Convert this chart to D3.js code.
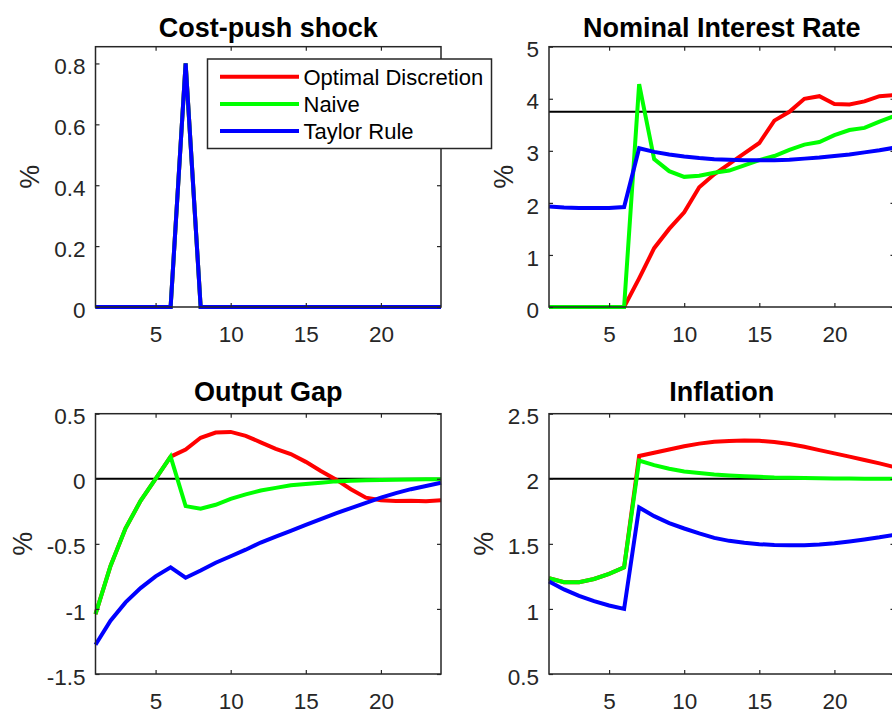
<!DOCTYPE html>
<html>
<head>
<meta charset="utf-8">
<script src="https://cdn.jsdelivr.net/npm/d3@7"></script>
<style>
  body { margin: 0; background: #fff; }
  svg { display: block; overflow: hidden; }
  text { font-family: "Liberation Sans", Arial, Helvetica, sans-serif; }
</style>
</head>
<body>
<div id="fig"></div>
<script>
// periods on the x axis
const periods = [1,2,3,4,5,6,7,8,9,10,11,12,13,14,15,16,17,18,19,20,21,22,23,24];

// Cost-push shock (same for all three)
const shockOpt    = [0,0,0,0,0,0,0.8,0,0,0,0,0,0,0,0,0,0,0,0,0,0,0,0,0];
const shockNaive  = [0,0,0,0,0,0,0.8,0,0,0,0,0,0,0,0,0,0,0,0,0,0,0,0,0];
const shockTaylor = [0,0,0,0,0,0,0.8,0,0,0,0,0,0,0,0,0,0,0,0,0,0,0,0,0];

// Nominal interest rate
const rateOpt    = [0,0,0,0,0,0,0.55,1.13,1.5,1.82,2.3,2.55,2.75,2.95,3.15,3.58,3.75,4.0,4.05,3.9,3.89,3.95,4.05,4.07];
const rateNaive  = [0,0,0,0,0,0,4.28,2.84,2.61,2.5,2.52,2.58,2.62,2.72,2.82,2.9,3.02,3.12,3.17,3.3,3.4,3.44,3.56,3.67];
const rateTaylor = [1.93,1.91,1.9,1.9,1.9,1.92,3.05,2.98,2.93,2.89,2.86,2.84,2.83,2.82,2.82,2.82,2.83,2.85,2.87,2.9,2.93,2.97,3.01,3.06];
const rateRef = 3.75;

// Output gap
const gapOpt    = [-1.04,-0.67,-0.38,-0.17,0.0,0.17,0.225,0.315,0.355,0.36,0.33,0.28,0.23,0.19,0.13,0.06,-0.005,-0.08,-0.145,-0.165,-0.17,-0.168,-0.172,-0.165];
const gapNaive  = [-1.04,-0.67,-0.38,-0.17,0.0,0.17,-0.21,-0.23,-0.2,-0.155,-0.12,-0.09,-0.07,-0.05,-0.04,-0.03,-0.02,-0.015,-0.012,-0.01,-0.008,-0.005,-0.004,-0.003];
const gapTaylor = [-1.275,-1.09,-0.95,-0.84,-0.75,-0.68,-0.76,-0.705,-0.645,-0.595,-0.545,-0.49,-0.445,-0.4,-0.355,-0.31,-0.265,-0.225,-0.185,-0.145,-0.11,-0.08,-0.055,-0.03];
const gapRef = 0;

// Inflation
const inflOpt    = [1.236,1.205,1.205,1.23,1.27,1.32,2.175,2.2,2.225,2.25,2.27,2.285,2.29,2.295,2.292,2.282,2.267,2.246,2.22,2.195,2.17,2.144,2.118,2.09];
const inflNaive  = [1.236,1.205,1.205,1.23,1.27,1.32,2.14,2.105,2.077,2.056,2.044,2.033,2.026,2.02,2.015,2.01,2.008,2.005,2.004,2.003,2.002,2.001,2.0,2.0];
const inflTaylor = [1.21,1.15,1.1,1.06,1.026,1.0,1.78,1.713,1.66,1.618,1.58,1.546,1.523,1.508,1.497,1.492,1.49,1.49,1.495,1.505,1.518,1.533,1.55,1.57];
const inflRef = 2;

const seriesNames = ["Optimal Discretion", "Naive", "Taylor Rule"];
const seriesColors = ["#ff0000", "#00ff00", "#0000ff"];

const xTicks = [5, 10, 15, 20];

const width = 892;
const height = 712;

const svg = d3.select("#fig").append("svg")
    .attr("width", width)
    .attr("height", height);

const panels = [
  {title: "Cost-push shock", x: 95.5, y: 46.7, domain: [0, 0.855], ticks: [0,0.2,0.4,0.6,0.8],
   data: [shockOpt, shockNaive, shockTaylor], ref: null, ylabOff: 57, titleOff: 10},
  {title: "Nominal Interest Rate", x: 549, y: 46.7, domain: [0, 5], ticks: [0,1,2,3,4,5],
   data: [rateOpt, rateNaive, rateTaylor], ref: rateRef, ylabOff: 36, titleOff: 10},
  {title: "Output Gap", x: 95.5, y: 413.7, domain: [-1.5, 0.5], ticks: [-1.5,-1,-0.5,0,0.5],
   data: [gapOpt, gapNaive, gapTaylor], ref: gapRef, ylabOff: 64, titleOff: 12.7},
  {title: "Inflation", x: 549, y: 413.7, domain: [0.5, 2.5], ticks: [0.5,1,1.5,2,2.5],
   data: [inflOpt, inflNaive, inflTaylor], ref: inflRef, ylabOff: 56, titleOff: 12.7}
];
const pw = 345.5, ph = 260.3;

panels.forEach(function(p){
  const g = svg.append("g").attr("transform", "translate(" + p.x + "," + p.y + ")");

  const x = d3.scaleLinear().domain([1, 24]).range([0, pw]);
  const y = d3.scaleLinear().domain(p.domain).range([ph, 0]);

  // reference line
  if (p.ref !== null) {
    g.append("line")
      .attr("x1", 0).attr("x2", pw)
      .attr("y1", y(p.ref)).attr("y2", y(p.ref))
      .attr("stroke", "#000")
      .attr("stroke-width", 2);
  }

  const line = d3.line()
    .x(function(d, i){ return x(periods[i]); })
    .y(function(d){ return y(d); });

  p.data.forEach(function(s, k){
    g.append("path")
      .datum(s)
      .attr("d", line)
      .attr("fill", "none")
      .attr("stroke", seriesColors[k])
      .attr("stroke-width", 4)
      .attr("stroke-linejoin", "miter")
      .attr("stroke-linecap", "butt");
  });

  const fmt = function(d){ return String(d); };

  // bottom + left with labels, ticks pointing in
  g.append("g")
    .attr("transform", "translate(0," + ph + ")")
    .call(d3.axisBottom(x).tickValues(xTicks).tickSizeInner(-4).tickSizeOuter(0).tickPadding(19).tickFormat(fmt))
    .call(function(a){ a.select(".domain").remove(); })
    .call(function(a){
      a.selectAll("line").attr("stroke", "#262626").attr("stroke-width", 1.2);
      a.selectAll("text").attr("fill", "#262626").attr("font-size", "22.5px").attr("font-family", null);
    });

  g.append("g")
    .call(d3.axisLeft(y).tickValues(p.ticks).tickSizeInner(-4).tickSizeOuter(0).tickPadding(10).tickFormat(fmt))
    .call(function(a){ a.select(".domain").remove(); })
    .call(function(a){
      a.selectAll("line").attr("stroke", "#262626").attr("stroke-width", 1.2);
      a.selectAll("text").attr("fill", "#262626").attr("font-size", "22.5px").attr("dy", "0.45em").attr("font-family", null);
    });

  // top + right ticks only
  g.append("g")
    .call(d3.axisTop(x).tickValues(xTicks).tickSizeInner(-4).tickSizeOuter(0).tickFormat(""))
    .call(function(a){ a.select(".domain").remove(); a.selectAll("line").attr("stroke", "#262626").attr("stroke-width", 1.2); });

  g.append("g")
    .attr("transform", "translate(" + pw + ",0)")
    .call(d3.axisRight(y).tickValues(p.ticks).tickSizeInner(-4).tickSizeOuter(0).tickFormat(""))
    .call(function(a){ a.select(".domain").remove(); a.selectAll("line").attr("stroke", "#262626").attr("stroke-width", 1.2); });

  // box
  g.append("rect")
    .attr("width", pw)
    .attr("height", ph)
    .attr("fill", "none")
    .attr("stroke", "#262626")
    .attr("stroke-width", 1.5);

  g.append("text")
    .attr("x", pw / 2)
    .attr("y", -p.titleOff)
    .attr("text-anchor", "middle")
    .attr("font-size", "27px")
    .attr("font-weight", "bold")
    .attr("fill", "#000")
    .text(p.title);

  g.append("text")
    .attr("transform", "translate(" + (-p.ylabOff) + "," + (ph / 2) + ") rotate(-90)")
    .attr("text-anchor", "middle")
    .attr("font-size", "27px")
    .attr("fill", "#262626")
    .text("%");
});

// legend (in first panel)
const legend = svg.append("g").attr("transform", "translate(207.5,59)");

legend.append("rect")
  .attr("width", 284)
  .attr("height", 89.5)
  .attr("fill", "#fff")
  .attr("stroke", "#262626")
  .attr("stroke-width", 1.5);

const items = legend.selectAll("g.item")
  .data(seriesNames)
  .enter().append("g")
  .attr("class", "item")
  .attr("transform", function(d, i){ return "translate(0," + (17.7 + i * 27.2) + ")"; });

items.append("line")
  .attr("x1", 12.5).attr("x2", 91.5)
  .attr("stroke", function(d, i){ return seriesColors[i]; })
  .attr("stroke-width", 4);

items.append("text")
  .attr("x", 96)
  .attr("dy", "0.36em")
  .attr("font-size", "22px")
  .attr("fill", "#000")
  .text(function(d){ return d; });
</script>
</body>
</html>
